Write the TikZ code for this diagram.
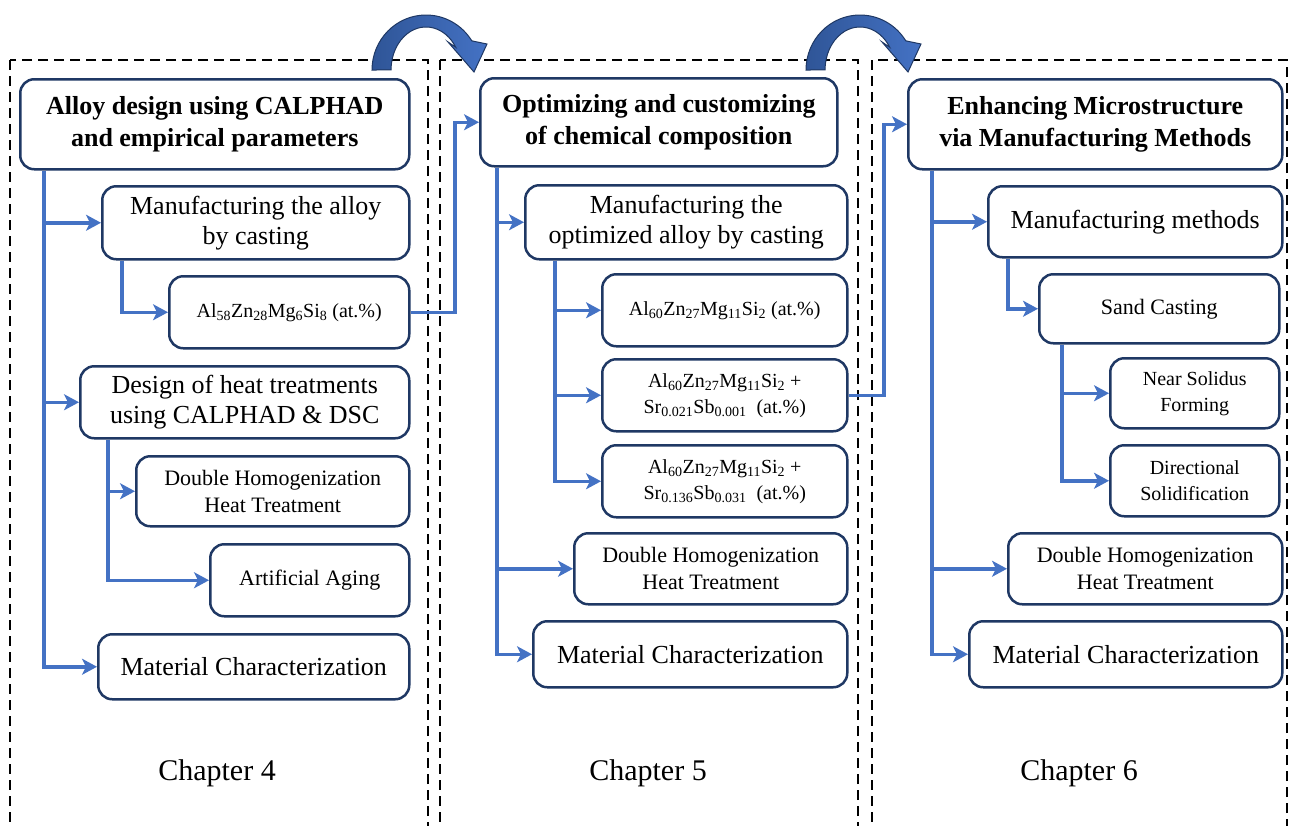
\documentclass[tikz,border=0pt]{standalone}
\usepackage{fontspec}
\setmainfont{Liberation Serif}
\usetikzlibrary{arrows.meta}
\definecolor{boxline}{HTML}{1F3864}
\definecolor{linkblue}{HTML}{4472C4}
\definecolor{bendfill}{HTML}{2F5597}
\newcommand{\low}[1]{\textsubscript{#1}}

\begin{document}
\begin{tikzpicture}[
        x=1pt, y=-1pt, % координаты в пикселях, ось y вниз
        frame/.style={draw, dash pattern=on 10pt off 6pt, line width=1.5pt}, % рамка главы
        box/.style={draw=boxline, line width=2.5pt, rounded corners=14pt, fill=white,
            align=center, anchor=north west, inner sep=0pt, font=\fontsize{26}{30}\selectfont},
        titlebox/.style={box, font=\bfseries\fontsize{26}{32}\selectfont},
        smallbox/.style={box, font=\fontsize{22}{27}\selectfont},
        formbox/.style={box, font=\fontsize{20}{26}\selectfont},
        link/.style={draw=linkblue, line width=3.5pt, -{Stealth[length=15pt, width=16pt, inset=4pt]}},
        bendarrow/.style={left color=bendfill, right color=linkblue, draw=boxline, line width=1pt},
        chap/.style={font=\fontsize{30}{36}\selectfont},
    ]
    \useasboundingbox (0,0) rectangle (1289,825);

    % рамки глав
    \draw[frame] (10,60) rectangle (428,845);
    \draw[frame] (440,60) rectangle (858,845);
    \draw[frame] (872,60) rectangle (1287,845);

    % изогнутые стрелки между главами
    \foreach \dx in {0,434} {
        \shadedraw[bendarrow, xshift=\dx pt] (372,70) arc[start angle=180, end angle=328, x radius=54, y radius=55]
            -- (487,44) -- (474,72) -- (448,42) -- (455.7,47.2)
            arc[start angle=328, end angle=180, x radius=35, y radius=43] -- cycle;
    }

    % глава 4
    \node[titlebox, minimum width=389pt, minimum height=90pt] (t1) at (19,78) {Alloy design using CALPHAD\\and empirical parameters};
    \node[box, minimum width=307pt, minimum height=73pt] (m1) at (101,185) {Manufacturing the alloy\\by casting};
    \node[formbox, minimum width=240pt, minimum height=72pt] (a1) at (168,275) {Al\low{58}Zn\low{28}Mg\low{6}Si\low{8} (at.\%)};
    \node[box, minimum width=329pt, minimum height=72pt] (d1) at (79,365) {Design of heat treatments\\using CALPHAD \& DSC};
    \node[smallbox, minimum width=273pt, minimum height=70pt] (h1) at (135,455) {Double Homogenization\\Heat Treatment};
    \node[smallbox, minimum width=199pt, minimum height=72pt] (g1) at (209,543) {Artificial Aging};
    \node[box, minimum width=311pt, minimum height=65pt] (c1) at (97,633) {Material Characterization};
    \node[chap] (ch4) at (217,773) {Chapter 4};

    \draw[link] ([xshift=25pt]t1.south west) |- (m1);
    \draw[link] ([xshift=25pt]t1.south west) |- (d1);
    \draw[link] ([xshift=25pt]t1.south west) |- (c1);
    \draw[link] ([xshift=21pt]m1.south west) |- (a1);
    \draw[link] ([xshift=29pt]d1.south west) |- (h1);
    \draw[link] ([xshift=29pt]d1.south west) |- (g1);

    % глава 5
    \node[titlebox, minimum width=357pt, minimum height=88pt] (t2) at (479,77) {Optimizing and customizing\\of chemical composition};
    \node[box, minimum width=322pt, minimum height=74pt] (m2) at (524,184) {Manufacturing the\\optimized alloy by casting};
    \node[formbox, minimum width=245pt, minimum height=72pt] (p1) at (601,273) {Al\low{60}Zn\low{27}Mg\low{11}Si\low{2} (at.\%)};
    \node[formbox, minimum width=245pt, minimum height=72pt] (p2) at (601,358) {Al\low{60}Zn\low{27}Mg\low{11}Si\low{2} +\\Sr\low{0.021}Sb\low{0.001}\ \ (at.\%)};
    \node[formbox, minimum width=245pt, minimum height=72pt] (p3) at (601,444) {Al\low{60}Zn\low{27}Mg\low{11}Si\low{2} +\\Sr\low{0.136}Sb\low{0.031}\ \ (at.\%)};
    \node[smallbox, minimum width=273pt, minimum height=71pt] (h2) at (573,532) {Double Homogenization\\Heat Treatment};
    \node[box, minimum width=314pt, minimum height=66pt] (c2) at (532,620) {Material Characterization};
    \node[chap] (ch5) at (648,773) {Chapter 5};

    \draw[link] ([xshift=18pt]t2.south west) |- (m2);
    \draw[link] ([xshift=18pt]t2.south west) |- (h2);
    \draw[link] ([xshift=18pt]t2.south west) |- (c2);
    \draw[link] ([xshift=31pt]m2.south west) |- (p1);
    \draw[link] ([xshift=31pt]m2.south west) |- (p2);
    \draw[link] ([xshift=31pt]m2.south west) |- (p3);

    % глава 6
    \node[titlebox, minimum width=374pt, minimum height=90pt] (t3) at (907,78) {Enhancing Microstructure\\via Manufacturing Methods};
    \node[box, minimum width=294pt, minimum height=71pt] (m3) at (987,185) {Manufacturing methods};
    \node[smallbox, minimum width=240pt, minimum height=69pt] (s3) at (1038,273) {Sand Casting};
    \node[formbox, minimum width=169pt, minimum height=70pt] (n3) at (1109,357) {Near Solidus\\Forming};
    \node[formbox, minimum width=169pt, minimum height=71pt] (r3) at (1109,444) {Directional\\Solidification};
    \node[smallbox, minimum width=274pt, minimum height=71pt] (h3) at (1007,532) {Double Homogenization\\Heat Treatment};
    \node[box, minimum width=313pt, minimum height=66pt] (c3) at (968,620) {Material Characterization};
    \node[chap] (ch6) at (1079,773) {Chapter 6};

    \draw[link] ([xshift=25pt]t3.south west) |- (m3);
    \draw[link] ([xshift=25pt]t3.south west) |- (h3);
    \draw[link] ([xshift=25pt]t3.south west) |- (c3);
    \draw[link] ([xshift=21pt]m3.south west) |- (s3);
    \draw[link] ([xshift=24pt]s3.south west) |- (n3);
    \draw[link] ([xshift=24pt]s3.south west) |- (r3);

    % переходы между главами
    \coordinate (j1) at (455,200);
    \coordinate (j2) at (884,200);
    \draw[link] (a1) -| (j1) |- (t2);
    \draw[link] (p2) -| (j2) |- (t3);
\end{tikzpicture}
\end{document}
